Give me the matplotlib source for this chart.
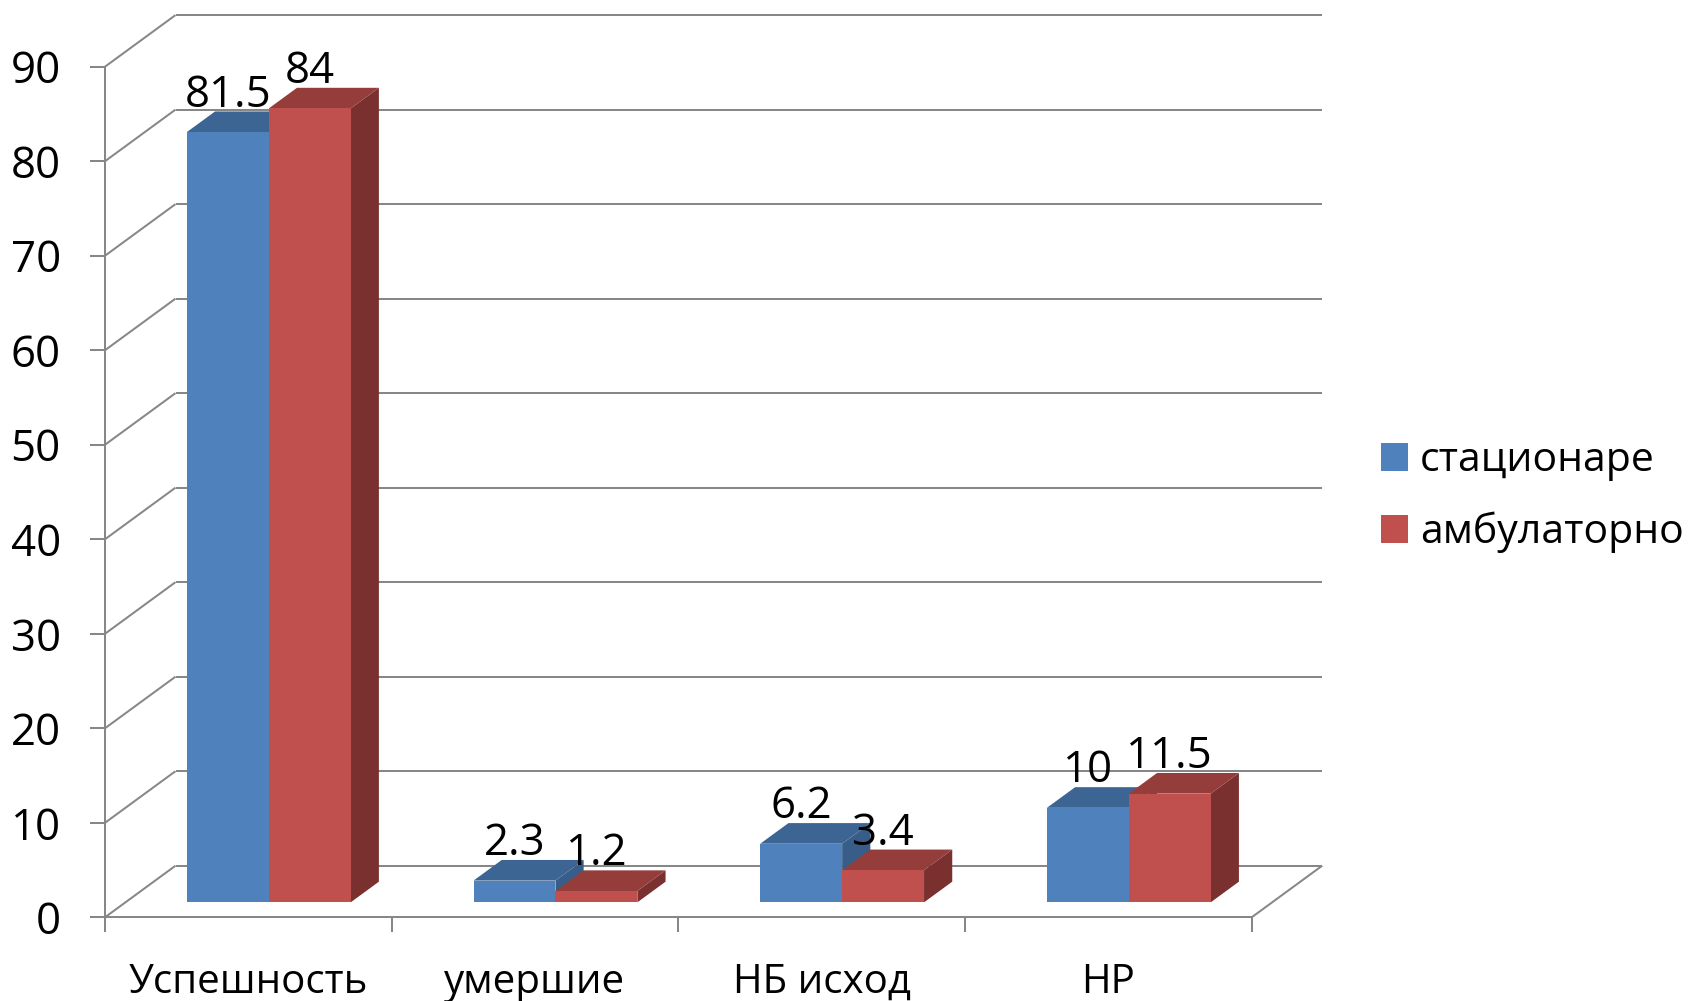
import matplotlib
matplotlib.use("Agg")
import matplotlib.pyplot as plt
from matplotlib.patches import Polygon, Patch

# ---- data -------------------------------------------------------------
categories = ["Успешность", "умершие", "НБ исход", "НР"]
series_names = ["стационаре", "амбулаторно"]
stationary = [81.5, 2.3, 6.2, 10]
ambulatory = [84, 1.2, 3.4, 11.5]
y_ticks = [0, 10, 20, 30, 40, 50, 60, 70, 80, 90]

# ---- style ------------------------------------------------------------
plt.rcParams["font.family"] = ["Open Sans", "DejaVu Sans"]
GRID = "#878787"
LW = 1.45
FRONT = ["#4F81BD", "#C0504D"]
TOP = ["#3D6594", "#943D3B"]
SIDE = ["#385D89", "#7A302E"]

W, H = 1692, 1001
fig = plt.figure(figsize=(W / 100, H / 100), dpi=100)
fig.patch.set_facecolor("white")

# front plane of the 3-D box
left_px, right_px, bottom_px, top_px = 105, 1251.7, 917.3, 66.7
ax = fig.add_axes([left_px / W, (H - bottom_px) / H,
                   (right_px - left_px) / W, (bottom_px - top_px) / H])
n = len(categories)
ymax = y_ticks[-1]
ax.set_xlim(0, n)
ax.set_ylim(0, ymax)
ax.set_facecolor("none")

# oblique depth vector of the box, expressed in data units
px_per_cat = (right_px - left_px) / n
px_per_val = (bottom_px - top_px) / ymax
DX = 70.5 / px_per_cat
DY = 51.6 / px_per_val


def proj(x, y, d):
    return x + d * DX, y + d * DY


def seg(p, q, **kw):
    ax.plot([p[0], q[0]], [p[1], q[1]], color=GRID, lw=LW,
            clip_on=False, solid_capstyle="butt", **kw)


# back wall gridlines and side-wall diagonals
for v in y_ticks:
    seg(proj(0, v, 1), proj(n, v, 1), zorder=1)
    seg(proj(0, v, 0), proj(0, v, 1), zorder=1)
# right edge of the floor
seg(proj(n, 0, 0), proj(n, 0, 1), zorder=1)

# bars
bar_w = 1 / 3.5          # gap width 150 %
gap = 0.75 * bar_w
d0, d1 = 0.29, 0.69      # bar depth range inside the box
values = [stationary, ambulatory]
VAL_FS = 31.5
z = 3
for i in range(n):
    for s in range(2):
        v = values[s][i]
        x0 = i + gap + s * bar_w
        x1 = x0 + bar_w
        side = [proj(x1, 0, d0), proj(x1, 0, d1), proj(x1, v, d1), proj(x1, v, d0)]
        top = [proj(x0, v, d0), proj(x1, v, d0), proj(x1, v, d1), proj(x0, v, d1)]
        front = [proj(x0, 0, d0), proj(x1, 0, d0), proj(x1, v, d0), proj(x0, v, d0)]
        for poly, col in ((side, SIDE[s]), (top, TOP[s]), (front, FRONT[s])):
            ax.add_patch(Polygon(poly, closed=True, facecolor=col,
                                 edgecolor="none", zorder=z, clip_on=False))
            z += 1
        cx = proj((x0 + x1) / 2, v, d0)[0]
        cy = proj(x0, v, d1)[1]
        ax.annotate(f"{v:g}", xy=(cx, cy), xytext=(0, 3.5), textcoords="offset points",
                    ha="center", va="baseline", fontsize=VAL_FS, color="black",
                    annotation_clip=False, zorder=100)

# axes, ticks and labels
for side_name in ("top", "right"):
    ax.spines[side_name].set_visible(False)
for side_name in ("left", "bottom"):
    ax.spines[side_name].set_color(GRID)
    ax.spines[side_name].set_linewidth(LW)
    ax.spines[side_name].set_zorder(2)

ax.set_yticks(y_ticks)
ax.set_yticklabels([str(t) for t in y_ticks])
ax.tick_params(axis="y", direction="out", length=10.8, width=LW, color=GRID,
               pad=21.0, labelsize=VAL_FS, labelcolor="black")

ax.set_xticks(range(n + 1))
ax.set_xticklabels([""] * (n + 1))
ax.set_xticks([i + 0.5 for i in range(n)], minor=True)
ax.set_xticklabels(categories, minor=True)
ax.tick_params(axis="x", which="major", direction="out", length=10.8, width=LW,
               color=GRID)
ax.tick_params(axis="x", which="minor", length=0, pad=32.5, labelsize=29,
               labelcolor="black")

# legend
handles = [Patch(facecolor=FRONT[0], edgecolor="none"),
           Patch(facecolor=FRONT[1], edgecolor="none")]
fs = 29.5
em = fs * 100 / 72
fig.legend(handles, series_names, loc="center left",
           bbox_to_anchor=(1380.7 / W, 1 - 497 / H), frameon=False, fontsize=fs,
           handlelength=27 / em, handleheight=27 / em, handletextpad=12 / em,
           labelspacing=0.75, borderpad=0, borderaxespad=0)

fig.savefig("out.png", dpi=100, facecolor="white")
